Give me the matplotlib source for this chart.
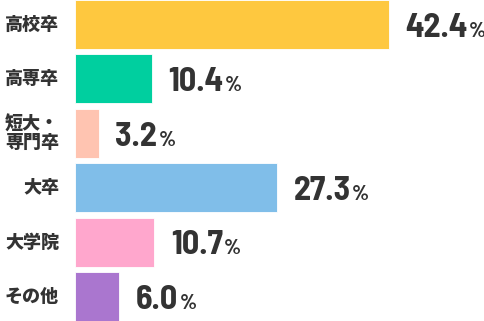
import matplotlib
matplotlib.use("Agg")
import matplotlib.pyplot as plt
from matplotlib import font_manager

# data
categories = ["高校卒", "高専卒", "短大・\n専門卒", "大卒", "大学院", "その他"]
values = [42.4, 10.4, 3.2, 27.3, 10.7, 6.0]
colors = ["#FEC83F", "#00CF9F", "#FFC4B1", "#80BEE9", "#FFA7CD", "#AA76CF"]

names = {f.name for f in font_manager.fontManager.ttflist}
num_font = ["DejaVu Sans"]
for cand in ["Barlow Semi Condensed", "Asap Condensed", "Barlow Condensed", "Liberation Sans"]:
    if cand in names:
        num_font = [cand, "DejaVu Sans"]
        break

plt.rcParams['font.family'] = ['Noto Sans CJK JP', 'DejaVu Sans']

fig = plt.figure(figsize=(4.85, 3.21), dpi=100)
ax = fig.add_axes([75 / 485, 0, 410 / 485, 1])

ypos = list(range(len(values)))
ax.barh(ypos, values, height=0.9, color=colors, edgecolor="white", linewidth=0.6)
ax.set_ylim(5.45, -0.45)
ax.set_xlim(0, 55.4)
ax.axis("off")

for y, cat in zip(ypos, categories):
    ax.annotate(cat, xy=(0, y), xycoords="data", xytext=(-11.5, 0), textcoords="offset points",
                ha="right", va="center", fontsize=13, fontweight="heavy", color="#333333",
                linespacing=1.0)

for y, v in zip(ypos, values):
    t = ax.annotate(f"{v:.1f}", xy=(v, y), xytext=(12, -8.8), textcoords="offset points",
                    ha="left", va="baseline", fontsize=24.5, fontweight="bold", color="#333333",
                    family=num_font)
    ax.annotate("%", xy=(1, y), xycoords=(t, "data"), xytext=(1, -8.8), textcoords="offset points",
                ha="left", va="baseline", fontsize=15.5, fontweight="bold", color="#333333",
                family=num_font)

fig.savefig("out.png", dpi=100)
